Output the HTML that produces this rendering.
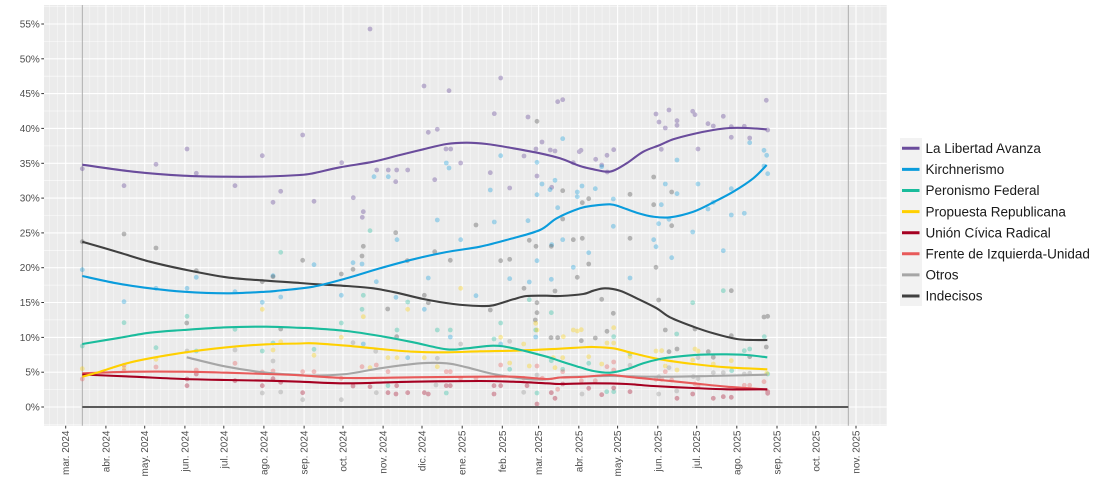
<!DOCTYPE html>
<html><head><meta charset="utf-8"><style>
html,body{margin:0;padding:0;background:#fff;}
svg{display:block;}
text{font-family:"Liberation Sans",Arial,sans-serif;}
</style></head><body>
<svg id="chart" width="1100" height="489" viewBox="0 0 1100 489" xmlns="http://www.w3.org/2000/svg">
<rect x="44" y="5" width="842.7" height="420.7" fill="#EBEBEB"/>
<g stroke="#FFFFFF" stroke-width="0.55" opacity="0.9">
<line x1="44" x2="886.7" y1="424.4" y2="424.4"/><line x1="44" x2="886.7" y1="389.6" y2="389.6"/><line x1="44" x2="886.7" y1="354.8" y2="354.8"/><line x1="44" x2="886.7" y1="319.9" y2="319.9"/><line x1="44" x2="886.7" y1="285.1" y2="285.1"/><line x1="44" x2="886.7" y1="250.3" y2="250.3"/><line x1="44" x2="886.7" y1="215.5" y2="215.5"/><line x1="44" x2="886.7" y1="180.7" y2="180.7"/><line x1="44" x2="886.7" y1="145.9" y2="145.9"/><line x1="44" x2="886.7" y1="111.0" y2="111.0"/><line x1="44" x2="886.7" y1="76.2" y2="76.2"/><line x1="44" x2="886.7" y1="41.4" y2="41.4"/><line x1="44" x2="886.7" y1="6.6" y2="6.6"/>
</g>
<g stroke="#FFFFFF" stroke-width="1.1">
<line x1="44" x2="886.7" y1="407" y2="407"/><line x1="44" x2="886.7" y1="372.2" y2="372.2"/><line x1="44" x2="886.7" y1="337.4" y2="337.4"/><line x1="44" x2="886.7" y1="302.5" y2="302.5"/><line x1="44" x2="886.7" y1="267.7" y2="267.7"/><line x1="44" x2="886.7" y1="232.9" y2="232.9"/><line x1="44" x2="886.7" y1="198.1" y2="198.1"/><line x1="44" x2="886.7" y1="163.3" y2="163.3"/><line x1="44" x2="886.7" y1="128.4" y2="128.4"/><line x1="44" x2="886.7" y1="93.6" y2="93.6"/><line x1="44" x2="886.7" y1="58.8" y2="58.8"/><line x1="44" x2="886.7" y1="24" y2="24"/>
<line x1="65.7" x2="65.7" y1="5" y2="425.7"/><line x1="105.9" x2="105.9" y1="5" y2="425.7"/><line x1="144.7" x2="144.7" y1="5" y2="425.7"/><line x1="184.9" x2="184.9" y1="5" y2="425.7"/><line x1="223.8" x2="223.8" y1="5" y2="425.7"/><line x1="263.9" x2="263.9" y1="5" y2="425.7"/><line x1="304.1" x2="304.1" y1="5" y2="425.7"/><line x1="343" x2="343" y1="5" y2="425.7"/><line x1="383.1" x2="383.1" y1="5" y2="425.7"/><line x1="422" x2="422" y1="5" y2="425.7"/><line x1="462.2" x2="462.2" y1="5" y2="425.7"/><line x1="502.3" x2="502.3" y1="5" y2="425.7"/><line x1="538.6" x2="538.6" y1="5" y2="425.7"/><line x1="578.8" x2="578.8" y1="5" y2="425.7"/><line x1="617.6" x2="617.6" y1="5" y2="425.7"/><line x1="657.8" x2="657.8" y1="5" y2="425.7"/><line x1="696.7" x2="696.7" y1="5" y2="425.7"/><line x1="736.8" x2="736.8" y1="5" y2="425.7"/><line x1="777" x2="777" y1="5" y2="425.7"/><line x1="815.9" x2="815.9" y1="5" y2="425.7"/><line x1="856" x2="856" y1="5" y2="425.7"/>
</g>
<g stroke="#FFFFFF" stroke-width="0.5" opacity="0.75">
<line x1="49.5" x2="49.5" y1="5" y2="425.7"/><line x1="57.6" x2="57.6" y1="5" y2="425.7"/>
<line x1="73.7" x2="73.7" y1="5" y2="425.7"/><line x1="81.8" x2="81.8" y1="5" y2="425.7"/><line x1="89.8" x2="89.8" y1="5" y2="425.7"/><line x1="97.9" x2="97.9" y1="5" y2="425.7"/>
<line x1="113.7" x2="113.7" y1="5" y2="425.7"/><line x1="121.4" x2="121.4" y1="5" y2="425.7"/><line x1="129.2" x2="129.2" y1="5" y2="425.7"/><line x1="136.9" x2="136.9" y1="5" y2="425.7"/>
<line x1="152.7" x2="152.7" y1="5" y2="425.7"/><line x1="160.8" x2="160.8" y1="5" y2="425.7"/><line x1="168.8" x2="168.8" y1="5" y2="425.7"/><line x1="176.9" x2="176.9" y1="5" y2="425.7"/>
<line x1="192.7" x2="192.7" y1="5" y2="425.7"/><line x1="200.5" x2="200.5" y1="5" y2="425.7"/><line x1="208.2" x2="208.2" y1="5" y2="425.7"/><line x1="216" x2="216" y1="5" y2="425.7"/>
<line x1="231.8" x2="231.8" y1="5" y2="425.7"/><line x1="239.8" x2="239.8" y1="5" y2="425.7"/><line x1="247.9" x2="247.9" y1="5" y2="425.7"/><line x1="255.9" x2="255.9" y1="5" y2="425.7"/>
<line x1="271.9" x2="271.9" y1="5" y2="425.7"/><line x1="280" x2="280" y1="5" y2="425.7"/><line x1="288" x2="288" y1="5" y2="425.7"/><line x1="296.1" x2="296.1" y1="5" y2="425.7"/>
<line x1="311.9" x2="311.9" y1="5" y2="425.7"/><line x1="319.7" x2="319.7" y1="5" y2="425.7"/><line x1="327.4" x2="327.4" y1="5" y2="425.7"/><line x1="335.2" x2="335.2" y1="5" y2="425.7"/>
<line x1="351" x2="351" y1="5" y2="425.7"/><line x1="359" x2="359" y1="5" y2="425.7"/><line x1="367.1" x2="367.1" y1="5" y2="425.7"/><line x1="375.1" x2="375.1" y1="5" y2="425.7"/>
<line x1="390.9" x2="390.9" y1="5" y2="425.7"/><line x1="398.6" x2="398.6" y1="5" y2="425.7"/><line x1="406.4" x2="406.4" y1="5" y2="425.7"/><line x1="414.2" x2="414.2" y1="5" y2="425.7"/>
<line x1="430" x2="430" y1="5" y2="425.7"/><line x1="438.1" x2="438.1" y1="5" y2="425.7"/><line x1="446.1" x2="446.1" y1="5" y2="425.7"/><line x1="454.2" x2="454.2" y1="5" y2="425.7"/>
<line x1="470.2" x2="470.2" y1="5" y2="425.7"/><line x1="478.2" x2="478.2" y1="5" y2="425.7"/><line x1="486.3" x2="486.3" y1="5" y2="425.7"/><line x1="494.3" x2="494.3" y1="5" y2="425.7"/>
<line x1="509.6" x2="509.6" y1="5" y2="425.7"/><line x1="516.8" x2="516.8" y1="5" y2="425.7"/><line x1="524.1" x2="524.1" y1="5" y2="425.7"/><line x1="531.3" x2="531.3" y1="5" y2="425.7"/>
<line x1="546.6" x2="546.6" y1="5" y2="425.7"/><line x1="554.7" x2="554.7" y1="5" y2="425.7"/><line x1="562.7" x2="562.7" y1="5" y2="425.7"/><line x1="570.8" x2="570.8" y1="5" y2="425.7"/>
<line x1="586.6" x2="586.6" y1="5" y2="425.7"/><line x1="594.3" x2="594.3" y1="5" y2="425.7"/><line x1="602.1" x2="602.1" y1="5" y2="425.7"/><line x1="609.8" x2="609.8" y1="5" y2="425.7"/>
<line x1="625.6" x2="625.6" y1="5" y2="425.7"/><line x1="633.7" x2="633.7" y1="5" y2="425.7"/><line x1="641.7" x2="641.7" y1="5" y2="425.7"/><line x1="649.8" x2="649.8" y1="5" y2="425.7"/>
<line x1="665.6" x2="665.6" y1="5" y2="425.7"/><line x1="673.4" x2="673.4" y1="5" y2="425.7"/><line x1="681.1" x2="681.1" y1="5" y2="425.7"/><line x1="688.9" x2="688.9" y1="5" y2="425.7"/>
<line x1="704.7" x2="704.7" y1="5" y2="425.7"/><line x1="712.7" x2="712.7" y1="5" y2="425.7"/><line x1="720.8" x2="720.8" y1="5" y2="425.7"/><line x1="728.8" x2="728.8" y1="5" y2="425.7"/>
<line x1="744.8" x2="744.8" y1="5" y2="425.7"/><line x1="752.9" x2="752.9" y1="5" y2="425.7"/><line x1="760.9" x2="760.9" y1="5" y2="425.7"/><line x1="769" x2="769" y1="5" y2="425.7"/>
<line x1="784.8" x2="784.8" y1="5" y2="425.7"/><line x1="792.6" x2="792.6" y1="5" y2="425.7"/><line x1="800.3" x2="800.3" y1="5" y2="425.7"/><line x1="808.1" x2="808.1" y1="5" y2="425.7"/>
<line x1="823.9" x2="823.9" y1="5" y2="425.7"/><line x1="831.9" x2="831.9" y1="5" y2="425.7"/><line x1="840" x2="840" y1="5" y2="425.7"/><line x1="848" x2="848" y1="5" y2="425.7"/>
<line x1="864" x2="864" y1="5" y2="425.7"/><line x1="872" x2="872" y1="5" y2="425.7"/><line x1="880" x2="880" y1="5" y2="425.7"/>
</g>
<line x1="82.3" x2="82.3" y1="5" y2="425.7" stroke="#ABABAB" stroke-width="1"/>
<line x1="848.3" x2="848.3" y1="5" y2="425.7" stroke="#ABABAB" stroke-width="1"/>

<!-- points -->
<g fill="#6A4C9C" opacity="0.38">
<circle cx="82.3" cy="168.7" r="2.4"/><circle cx="124" cy="185.7" r="2.4"/><circle cx="156" cy="164.3" r="2.4"/><circle cx="187" cy="149" r="2.4"/><circle cx="196.3" cy="173.3" r="2.4"/><circle cx="235" cy="185.7" r="2.4"/><circle cx="262.3" cy="155.7" r="2.4"/><circle cx="273" cy="202.3" r="2.4"/><circle cx="280.7" cy="191.3" r="2.4"/><circle cx="302.7" cy="135" r="2.4"/><circle cx="341.7" cy="162.7" r="2.4"/><circle cx="314" cy="201.3" r="2.4"/><circle cx="353.3" cy="197.7" r="2.4"/><circle cx="363.3" cy="211.7" r="2.4"/><circle cx="362.3" cy="217.3" r="2.4"/><circle cx="376.7" cy="170" r="2.4"/><circle cx="388.3" cy="170" r="2.4"/><circle cx="396.7" cy="170" r="2.4"/><circle cx="395.7" cy="181.7" r="2.4"/><circle cx="407.7" cy="170" r="2.4"/><circle cx="370" cy="29" r="2.4"/><circle cx="424" cy="86" r="2.4"/><circle cx="428.3" cy="132.3" r="2.4"/><circle cx="437.3" cy="129.3" r="2.4"/><circle cx="449" cy="90.7" r="2.4"/><circle cx="446" cy="149" r="2.4"/><circle cx="450.7" cy="149" r="2.4"/><circle cx="460.7" cy="163" r="2.4"/><circle cx="434.7" cy="179.7" r="2.4"/><circle cx="490.3" cy="172.7" r="2.4"/><circle cx="494.3" cy="113.7" r="2.4"/><circle cx="500.7" cy="78" r="2.4"/><circle cx="509.7" cy="188" r="2.4"/><circle cx="524" cy="156" r="2.4"/><circle cx="528" cy="117" r="2.4"/><circle cx="536" cy="149" r="2.4"/><circle cx="537" cy="176" r="2.4"/><circle cx="542" cy="142" r="2.4"/><circle cx="550.3" cy="150" r="2.4"/><circle cx="555" cy="151" r="2.4"/><circle cx="551.7" cy="187.3" r="2.4"/><circle cx="557.7" cy="101.7" r="2.4"/><circle cx="562.7" cy="99.7" r="2.4"/><circle cx="579.3" cy="151.7" r="2.4"/><circle cx="581" cy="150.3" r="2.4"/><circle cx="573.3" cy="162.7" r="2.4"/><circle cx="595.7" cy="159.3" r="2.4"/><circle cx="601.7" cy="165" r="2.4"/><circle cx="607" cy="155.3" r="2.4"/><circle cx="613.7" cy="149.7" r="2.4"/><circle cx="607.3" cy="172" r="2.4"/><circle cx="656" cy="114" r="2.4"/><circle cx="659" cy="122" r="2.4"/><circle cx="665.3" cy="128" r="2.4"/><circle cx="669" cy="110" r="2.4"/><circle cx="677" cy="120.7" r="2.4"/><circle cx="677" cy="125.3" r="2.4"/><circle cx="661.3" cy="149.3" r="2.4"/><circle cx="692.7" cy="111.3" r="2.4"/><circle cx="695" cy="114.7" r="2.4"/><circle cx="698" cy="149" r="2.4"/><circle cx="708" cy="123.7" r="2.4"/><circle cx="713.3" cy="126" r="2.4"/><circle cx="723.3" cy="116.3" r="2.4"/><circle cx="731.3" cy="126.7" r="2.4"/><circle cx="731.3" cy="137.3" r="2.4"/><circle cx="744.3" cy="126.3" r="2.4"/><circle cx="749.7" cy="138" r="2.4"/><circle cx="766.3" cy="100.3" r="2.4"/><circle cx="767.7" cy="130" r="2.4"/>
</g>
<g fill="#0A9CDC" opacity="0.33">
<circle cx="82.3" cy="269.7" r="2.4"/><circle cx="124" cy="301.7" r="2.4"/><circle cx="156" cy="288.3" r="2.4"/><circle cx="187" cy="288.3" r="2.4"/><circle cx="196.3" cy="277.3" r="2.4"/><circle cx="235" cy="291.7" r="2.4"/><circle cx="262.3" cy="302.3" r="2.4"/><circle cx="273" cy="275.7" r="2.4"/><circle cx="280.7" cy="297" r="2.4"/><circle cx="374" cy="176.7" r="2.4"/><circle cx="388.3" cy="176.7" r="2.4"/><circle cx="446.3" cy="163" r="2.4"/><circle cx="449" cy="168" r="2.4"/><circle cx="537" cy="162.3" r="2.4"/><circle cx="542" cy="184" r="2.4"/><circle cx="550" cy="189.7" r="2.4"/><circle cx="555" cy="180.3" r="2.4"/><circle cx="537" cy="194.7" r="2.4"/><circle cx="562.7" cy="138.7" r="2.4"/><circle cx="557.7" cy="207.7" r="2.4"/><circle cx="490.3" cy="190" r="2.4"/><circle cx="494.3" cy="222" r="2.4"/><circle cx="437.3" cy="220" r="2.4"/><circle cx="528" cy="220.7" r="2.4"/><circle cx="577.3" cy="196.7" r="2.4"/><circle cx="500.7" cy="155.7" r="2.4"/><circle cx="582" cy="186" r="2.4"/><circle cx="577.3" cy="192" r="2.4"/><circle cx="595.3" cy="188.7" r="2.4"/><circle cx="601.7" cy="166.7" r="2.4"/><circle cx="613.3" cy="199" r="2.4"/><circle cx="613.3" cy="226.3" r="2.4"/><circle cx="677" cy="160" r="2.4"/><circle cx="665.3" cy="184" r="2.4"/><circle cx="677" cy="193.7" r="2.4"/><circle cx="661.3" cy="204.7" r="2.4"/><circle cx="658.7" cy="223.7" r="2.4"/><circle cx="669" cy="219.3" r="2.4"/><circle cx="698" cy="184" r="2.4"/><circle cx="692.7" cy="232" r="2.4"/><circle cx="713.3" cy="202.3" r="2.4"/><circle cx="708" cy="209" r="2.4"/><circle cx="731.3" cy="188.7" r="2.4"/><circle cx="731.3" cy="215" r="2.4"/><circle cx="744.3" cy="213.3" r="2.4"/><circle cx="749.7" cy="142.7" r="2.4"/><circle cx="764" cy="150.3" r="2.4"/><circle cx="766.7" cy="155.3" r="2.4"/><circle cx="764" cy="166" r="2.4"/><circle cx="767.7" cy="173.7" r="2.4"/><circle cx="562.7" cy="239.7" r="2.4"/><circle cx="653.7" cy="239.7" r="2.4"/><circle cx="656" cy="246.7" r="2.4"/><circle cx="314" cy="264.7" r="2.4"/><circle cx="353" cy="262.7" r="2.4"/><circle cx="362" cy="264" r="2.4"/><circle cx="397" cy="239.7" r="2.4"/><circle cx="460.7" cy="239.7" r="2.4"/><circle cx="376.3" cy="281.7" r="2.4"/><circle cx="341.3" cy="295.3" r="2.4"/><circle cx="396" cy="297.3" r="2.4"/><circle cx="428.3" cy="278" r="2.4"/><circle cx="424.3" cy="309.3" r="2.4"/><circle cx="476" cy="295.7" r="2.4"/><circle cx="509.7" cy="278.7" r="2.4"/><circle cx="529.3" cy="282" r="2.4"/><circle cx="537" cy="260.7" r="2.4"/><circle cx="551.3" cy="279.3" r="2.4"/><circle cx="551.7" cy="244.7" r="2.4"/><circle cx="573.3" cy="267.3" r="2.4"/><circle cx="588.7" cy="252.7" r="2.4"/><circle cx="630" cy="278" r="2.4"/><circle cx="671.7" cy="257.7" r="2.4"/><circle cx="723.3" cy="250.7" r="2.4"/><circle cx="450.3" cy="337" r="2.4"/><circle cx="500.7" cy="344" r="2.4"/><circle cx="535.7" cy="337" r="2.4"/><circle cx="407.7" cy="357.7" r="2.4"/><circle cx="363.3" cy="344" r="2.4"/>
</g>
<g fill="#404040" opacity="0.33">
<circle cx="82.3" cy="241.7" r="2.4"/><circle cx="124" cy="234" r="2.4"/><circle cx="156" cy="248" r="2.4"/><circle cx="196.3" cy="270.7" r="2.4"/><circle cx="262.3" cy="281.7" r="2.4"/><circle cx="273" cy="276.7" r="2.4"/><circle cx="186.7" cy="323" r="2.4"/><circle cx="280.7" cy="329" r="2.4"/><circle cx="395.7" cy="232.7" r="2.4"/><circle cx="476" cy="225" r="2.4"/><circle cx="363.3" cy="246.3" r="2.4"/><circle cx="302.7" cy="260.3" r="2.4"/><circle cx="362" cy="256" r="2.4"/><circle cx="341.3" cy="274" r="2.4"/><circle cx="353" cy="269.3" r="2.4"/><circle cx="407.3" cy="260.7" r="2.4"/><circle cx="434.7" cy="251.7" r="2.4"/><circle cx="450.3" cy="260.3" r="2.4"/><circle cx="424.3" cy="295.3" r="2.4"/><circle cx="428.3" cy="302.7" r="2.4"/><circle cx="387.7" cy="309" r="2.4"/><circle cx="490.3" cy="310" r="2.4"/><circle cx="500.7" cy="260.7" r="2.4"/><circle cx="509.7" cy="259.3" r="2.4"/><circle cx="529.3" cy="240.3" r="2.4"/><circle cx="536" cy="246.3" r="2.4"/><circle cx="551.3" cy="246.3" r="2.4"/><circle cx="577.3" cy="277.3" r="2.4"/><circle cx="555" cy="291" r="2.4"/><circle cx="524" cy="288.3" r="2.4"/><circle cx="537" cy="302.7" r="2.4"/><circle cx="537" cy="312.7" r="2.4"/><circle cx="535.3" cy="320" r="2.4"/><circle cx="396.7" cy="336.7" r="2.4"/><circle cx="551" cy="337.7" r="2.4"/><circle cx="557.7" cy="337.7" r="2.4"/><circle cx="562.7" cy="190.7" r="2.4"/><circle cx="562.7" cy="219" r="2.4"/><circle cx="573.3" cy="239.7" r="2.4"/><circle cx="582.3" cy="238.3" r="2.4"/><circle cx="588.7" cy="198.7" r="2.4"/><circle cx="582.3" cy="202.7" r="2.4"/><circle cx="630" cy="194.3" r="2.4"/><circle cx="630" cy="238.3" r="2.4"/><circle cx="653.7" cy="177" r="2.4"/><circle cx="653.7" cy="204.7" r="2.4"/><circle cx="671.7" cy="192" r="2.4"/><circle cx="671.7" cy="225.7" r="2.4"/><circle cx="588.7" cy="264" r="2.4"/><circle cx="601.7" cy="299.3" r="2.4"/><circle cx="613.3" cy="313.3" r="2.4"/><circle cx="607" cy="331.3" r="2.4"/><circle cx="581.3" cy="340.7" r="2.4"/><circle cx="595.3" cy="338" r="2.4"/><circle cx="656" cy="267.3" r="2.4"/><circle cx="658.7" cy="300" r="2.4"/><circle cx="665.3" cy="330" r="2.4"/><circle cx="669" cy="351.7" r="2.4"/><circle cx="677" cy="349" r="2.4"/><circle cx="731.3" cy="290.7" r="2.4"/><circle cx="695" cy="329" r="2.4"/><circle cx="731.3" cy="335.7" r="2.4"/><circle cx="764" cy="317" r="2.4"/><circle cx="767.7" cy="316.3" r="2.4"/><circle cx="766.3" cy="347" r="2.4"/><circle cx="708.3" cy="351.7" r="2.4"/><circle cx="713.3" cy="357.3" r="2.4"/><circle cx="749.7" cy="356.7" r="2.4"/><circle cx="537" cy="121.3" r="2.4"/>
</g>
<g fill="#1ABC9C" opacity="0.33">
<circle cx="82.3" cy="346" r="2.4"/><circle cx="124" cy="322.7" r="2.4"/><circle cx="156" cy="347.7" r="2.4"/><circle cx="187" cy="316.3" r="2.4"/><circle cx="196.3" cy="351" r="2.4"/><circle cx="235" cy="329.3" r="2.4"/><circle cx="262.3" cy="351" r="2.4"/><circle cx="273" cy="343" r="2.4"/><circle cx="280.7" cy="252.3" r="2.4"/><circle cx="370" cy="230.7" r="2.4"/><circle cx="363.3" cy="295.3" r="2.4"/><circle cx="362" cy="309.3" r="2.4"/><circle cx="341.3" cy="323" r="2.4"/><circle cx="407.7" cy="302" r="2.4"/><circle cx="437.3" cy="330" r="2.4"/><circle cx="450.3" cy="330" r="2.4"/><circle cx="397" cy="330" r="2.4"/><circle cx="314" cy="349.3" r="2.4"/><circle cx="494" cy="339" r="2.4"/><circle cx="500.7" cy="323" r="2.4"/><circle cx="509.7" cy="369.3" r="2.4"/><circle cx="529.3" cy="299.7" r="2.4"/><circle cx="551.3" cy="312.7" r="2.4"/><circle cx="535.7" cy="330" r="2.4"/><circle cx="562.7" cy="369.3" r="2.4"/><circle cx="388" cy="385.7" r="2.4"/><circle cx="446.3" cy="393" r="2.4"/><circle cx="537" cy="393" r="2.4"/><circle cx="551.3" cy="360.7" r="2.4"/><circle cx="723.3" cy="290.7" r="2.4"/><circle cx="692.7" cy="302.7" r="2.4"/><circle cx="676.7" cy="334" r="2.4"/><circle cx="613.7" cy="336.7" r="2.4"/><circle cx="630" cy="354" r="2.4"/><circle cx="744.3" cy="350.7" r="2.4"/><circle cx="749.7" cy="349" r="2.4"/><circle cx="764.3" cy="336.7" r="2.4"/><circle cx="588.7" cy="363.3" r="2.4"/><circle cx="613.7" cy="391.7" r="2.4"/><circle cx="606.7" cy="391.7" r="2.4"/><circle cx="731.7" cy="370.7" r="2.4"/><circle cx="767.7" cy="374" r="2.4"/>
</g>
<g fill="#FFD000" opacity="0.33">
<circle cx="82.3" cy="368.7" r="2.4"/><circle cx="156" cy="359.3" r="2.4"/><circle cx="262.3" cy="309.3" r="2.4"/><circle cx="273" cy="350" r="2.4"/><circle cx="280.7" cy="341.7" r="2.4"/><circle cx="341.3" cy="337.3" r="2.4"/><circle cx="314" cy="355.3" r="2.4"/><circle cx="363.3" cy="316.7" r="2.4"/><circle cx="407.7" cy="309.3" r="2.4"/><circle cx="460.7" cy="288.3" r="2.4"/><circle cx="388" cy="357.7" r="2.4"/><circle cx="397" cy="357.7" r="2.4"/><circle cx="424.3" cy="357.7" r="2.4"/><circle cx="437.3" cy="366.7" r="2.4"/><circle cx="370" cy="367.7" r="2.4"/><circle cx="500.7" cy="337.3" r="2.4"/><circle cx="535.7" cy="323.3" r="2.4"/><circle cx="537" cy="330" r="2.4"/><circle cx="509.7" cy="363" r="2.4"/><circle cx="529.3" cy="366" r="2.4"/><circle cx="563.3" cy="336.7" r="2.4"/><circle cx="573.3" cy="330" r="2.4"/><circle cx="553.3" cy="357.7" r="2.4"/><circle cx="555" cy="367.7" r="2.4"/><circle cx="523.7" cy="344" r="2.4"/><circle cx="577.3" cy="331" r="2.4"/><circle cx="581.3" cy="329.7" r="2.4"/><circle cx="613.7" cy="327.7" r="2.4"/><circle cx="607" cy="343" r="2.4"/><circle cx="613.7" cy="343" r="2.4"/><circle cx="562.7" cy="357.7" r="2.4"/><circle cx="588.7" cy="356.7" r="2.4"/><circle cx="630" cy="356.7" r="2.4"/><circle cx="656" cy="351" r="2.4"/><circle cx="661.7" cy="350.7" r="2.4"/><circle cx="695" cy="349" r="2.4"/><circle cx="698" cy="351" r="2.4"/><circle cx="665.3" cy="366" r="2.4"/><circle cx="677" cy="370" r="2.4"/><circle cx="713.3" cy="364" r="2.4"/><circle cx="731.3" cy="360.7" r="2.4"/><circle cx="766.7" cy="373.3" r="2.4"/><circle cx="601.7" cy="364" r="2.4"/><circle cx="692.7" cy="360" r="2.4"/><circle cx="124" cy="368" r="2.4"/>
</g>
<g fill="#A6A6A6" opacity="0.45">
<circle cx="187" cy="351" r="2.4"/><circle cx="235" cy="350" r="2.4"/><circle cx="262.3" cy="393" r="2.4"/><circle cx="280.7" cy="392" r="2.4"/><circle cx="273" cy="361" r="2.4"/><circle cx="353" cy="342.7" r="2.4"/><circle cx="375.7" cy="351.3" r="2.4"/><circle cx="437.3" cy="358.3" r="2.4"/><circle cx="460.7" cy="344" r="2.4"/><circle cx="509.7" cy="341.3" r="2.4"/><circle cx="341.3" cy="399.7" r="2.4"/><circle cx="376.3" cy="392.7" r="2.4"/><circle cx="302.7" cy="399.7" r="2.4"/><circle cx="436" cy="385" r="2.4"/><circle cx="523.7" cy="392.3" r="2.4"/><circle cx="537" cy="375" r="2.4"/><circle cx="630" cy="365.3" r="2.4"/><circle cx="658.7" cy="376.7" r="2.4"/><circle cx="669" cy="367.7" r="2.4"/><circle cx="698" cy="357.7" r="2.4"/><circle cx="698" cy="378.7" r="2.4"/><circle cx="744.3" cy="374" r="2.4"/><circle cx="749.7" cy="373.3" r="2.4"/><circle cx="582" cy="394" r="2.4"/><circle cx="658.7" cy="394" r="2.4"/><circle cx="676.7" cy="391" r="2.4"/><circle cx="693.3" cy="376.7" r="2.4"/><circle cx="713.3" cy="372.7" r="2.4"/><circle cx="723.3" cy="372.7" r="2.4"/>
</g>
<g fill="#E85A5A" opacity="0.35">
<circle cx="82.3" cy="379" r="2.4"/><circle cx="124" cy="365.3" r="2.4"/><circle cx="124" cy="370.7" r="2.4"/><circle cx="156" cy="367" r="2.4"/><circle cx="196.3" cy="370" r="2.4"/><circle cx="235" cy="363.3" r="2.4"/><circle cx="262.3" cy="372" r="2.4"/><circle cx="273" cy="371" r="2.4"/><circle cx="302.7" cy="371.7" r="2.4"/><circle cx="314" cy="371.7" r="2.4"/><circle cx="362" cy="366.7" r="2.4"/><circle cx="376.3" cy="365" r="2.4"/><circle cx="388" cy="371.7" r="2.4"/><circle cx="341.3" cy="378.3" r="2.4"/><circle cx="446.3" cy="371.7" r="2.4"/><circle cx="450.3" cy="371.7" r="2.4"/><circle cx="460.7" cy="378.3" r="2.4"/><circle cx="476" cy="378.3" r="2.4"/><circle cx="500.7" cy="365" r="2.4"/><circle cx="523.7" cy="378.3" r="2.4"/><circle cx="537" cy="366" r="2.4"/><circle cx="542.3" cy="378.3" r="2.4"/><circle cx="557.7" cy="389.3" r="2.4"/><circle cx="562.7" cy="371.7" r="2.4"/><circle cx="581.3" cy="380.7" r="2.4"/><circle cx="595.3" cy="380.7" r="2.4"/><circle cx="607" cy="366.7" r="2.4"/><circle cx="613.7" cy="362" r="2.4"/><circle cx="613.7" cy="370" r="2.4"/><circle cx="656" cy="379.3" r="2.4"/><circle cx="661.7" cy="379.3" r="2.4"/><circle cx="665.3" cy="371.7" r="2.4"/><circle cx="671.7" cy="380" r="2.4"/><circle cx="695" cy="384" r="2.4"/><circle cx="698" cy="386" r="2.4"/><circle cx="744.3" cy="385.3" r="2.4"/><circle cx="749.7" cy="385.3" r="2.4"/><circle cx="764" cy="381.7" r="2.4"/>
</g>
<g fill="#A50021" opacity="0.33">
<circle cx="187" cy="379" r="2.4"/><circle cx="187" cy="385.7" r="2.4"/><circle cx="196.3" cy="374" r="2.4"/><circle cx="235" cy="380.7" r="2.4"/><circle cx="262.3" cy="385.7" r="2.4"/><circle cx="273" cy="378.7" r="2.4"/><circle cx="280.7" cy="382.3" r="2.4"/><circle cx="302.7" cy="392.7" r="2.4"/><circle cx="353" cy="386" r="2.4"/><circle cx="370" cy="386.7" r="2.4"/><circle cx="396.7" cy="385.7" r="2.4"/><circle cx="388" cy="392.7" r="2.4"/><circle cx="396" cy="394" r="2.4"/><circle cx="407.7" cy="392.7" r="2.4"/><circle cx="424.3" cy="392.7" r="2.4"/><circle cx="428.3" cy="394" r="2.4"/><circle cx="446.3" cy="385.7" r="2.4"/><circle cx="450.3" cy="385.7" r="2.4"/><circle cx="494" cy="385.7" r="2.4"/><circle cx="494" cy="394" r="2.4"/><circle cx="500.7" cy="385.7" r="2.4"/><circle cx="527" cy="385.7" r="2.4"/><circle cx="537" cy="404" r="2.4"/><circle cx="551.3" cy="392.7" r="2.4"/><circle cx="555" cy="398.3" r="2.4"/><circle cx="562.7" cy="384" r="2.4"/><circle cx="588.7" cy="388.3" r="2.4"/><circle cx="601.7" cy="394.7" r="2.4"/><circle cx="613.7" cy="388" r="2.4"/><circle cx="630" cy="391.7" r="2.4"/><circle cx="677" cy="398.3" r="2.4"/><circle cx="692.7" cy="394" r="2.4"/><circle cx="713.3" cy="398.3" r="2.4"/><circle cx="723.3" cy="396.7" r="2.4"/><circle cx="731.3" cy="397.3" r="2.4"/><circle cx="767.7" cy="393.3" r="2.4"/><circle cx="767.7" cy="391.7" r="2.4"/>
</g>

<!-- zero line -->
<line x1="82.3" x2="848.3" y1="407" y2="407" stroke="#595959" stroke-width="2"/>

<!-- curves -->
<g id="curves" fill="none" stroke-width="2.1" stroke-linejoin="round" stroke-linecap="butt">
<polyline stroke="#A6A6A6" points="186.7,357.3 226.7,366.7 266.7,372.7 300,375 313.3,375.7 346.7,374 380,368.3 420,363.3 446.7,363.3 466.7,367.3 493.3,374 526.7,379 545,379.5 560,377.5 580,376.7 610,376 660,376.7 710,376 767.3,374.7"/>
<polyline stroke="#E85A5A" points="82.3,373.3 133.3,371.7 183.3,371.7 226.7,372.7 266.7,374 300,375.3 346.7,378 413.3,377.3 480,376.7 513.3,376.7 546.7,379 560,377.5 580,377 610,375 626.7,376.7 660,380 693.3,383.3 726.7,386.7 767.3,389.5"/>
<polyline stroke="#A50021" points="82.3,374.5 133.3,376.7 183.3,379 226.7,380 266.7,380.7 300,381.7 346.7,383.3 413.3,381.7 480,381 513.3,381.7 546.7,383.3 560,384 593.3,383.3 626.7,384 653.3,386 693.3,388 726.7,389.3 767.3,389.3"/>
<polyline stroke="#FFD000" points="82.3,376.7 100,371.7 133.3,361.7 183.3,352.7 226.7,347.3 266.7,344.3 300,343.5 313.3,343.3 346.7,345.7 380,349 413.3,351.7 446.7,352.3 480,351.3 513.3,350.7 546.7,349.3 560,348.7 580,347.5 593.3,347 613.3,348.3 633.3,353.3 660,359.3 693.3,364 726.7,367.3 767.3,369.3"/>
<polyline stroke="#1ABC9C" points="82.3,344 116.7,338.3 150,332.7 183.3,330 226.7,327.3 266.7,326.7 300,327.8 313.3,328.3 346.7,331 380,336 413.3,342.3 446.7,349.3 466.7,348.3 493.3,345.7 513.3,348.3 546.7,356.7 560,361 580,367.3 593.3,371 610,372.7 626.7,369.3 643.3,363.3 660,359 676.7,356.7 700,354.7 726.7,354.3 746.7,355 767.3,357.3"/>
<polyline stroke="#404040" points="82.3,241.7 116.7,251.7 150,261.7 183.3,269.3 226.7,277.3 266.7,280.7 300,283 313.3,284 346.7,286 373.3,288.3 396.7,292.7 423.3,299 453.3,304 480,306 493.3,305.3 513.3,299.3 526.7,296 546.7,295.7 560,296 583.3,294 593.3,290.7 605,288.3 620,290.7 636.7,298.3 656.7,308.3 670,317.3 693.3,326.7 713.3,333.3 736.7,339 753.3,340 767.3,340"/>
<polyline stroke="#0A9CDC" points="82.3,276 116.7,283.3 150,288.3 183.3,291.7 226.7,293.3 266.7,291.7 280,290.5 313.3,286.7 346.7,278.3 380,268.3 413.3,259.3 446.7,252 480,246.7 510,239 540,230 556.7,218.3 580,208.3 593.3,205.7 610,204.3 620,206.7 636.7,212.7 653.3,216.7 670,217.3 693.3,211.7 713.3,202.3 733.3,191.7 753.3,178.3 766.7,165"/>
<polyline stroke="#6A4C9C" points="82.3,164.7 133.3,171.7 183.3,175.7 226.7,176.7 266.7,176.5 300,175 313,173.3 340,167.3 373.3,161.7 400,155 423.3,149.3 446.7,144 466.7,142.7 486.7,144 513.3,148.3 540,153.3 560,158.3 580,166 593.3,169.3 606.7,171.7 615,170 626.7,163.3 643.3,151.7 660,145 673.3,139.3 693.3,134 713.3,130 730,128 746.7,128 766.7,129.3"/>
</g>

<!-- axes ticks -->
<g stroke="#333333" stroke-width="1">
<line x1="41.3" x2="44" y1="407" y2="407"/><line x1="41.3" x2="44" y1="372.2" y2="372.2"/><line x1="41.3" x2="44" y1="337.4" y2="337.4"/><line x1="41.3" x2="44" y1="302.5" y2="302.5"/><line x1="41.3" x2="44" y1="267.7" y2="267.7"/><line x1="41.3" x2="44" y1="232.9" y2="232.9"/><line x1="41.3" x2="44" y1="198.1" y2="198.1"/><line x1="41.3" x2="44" y1="163.3" y2="163.3"/><line x1="41.3" x2="44" y1="128.4" y2="128.4"/><line x1="41.3" x2="44" y1="93.6" y2="93.6"/><line x1="41.3" x2="44" y1="58.8" y2="58.8"/><line x1="41.3" x2="44" y1="24" y2="24"/>
<line x1="65.7" x2="65.7" y1="425.7" y2="428.5"/><line x1="105.9" x2="105.9" y1="425.7" y2="428.5"/><line x1="144.7" x2="144.7" y1="425.7" y2="428.5"/><line x1="184.9" x2="184.9" y1="425.7" y2="428.5"/><line x1="223.8" x2="223.8" y1="425.7" y2="428.5"/><line x1="263.9" x2="263.9" y1="425.7" y2="428.5"/><line x1="304.1" x2="304.1" y1="425.7" y2="428.5"/><line x1="343" x2="343" y1="425.7" y2="428.5"/><line x1="383.1" x2="383.1" y1="425.7" y2="428.5"/><line x1="422" x2="422" y1="425.7" y2="428.5"/><line x1="462.2" x2="462.2" y1="425.7" y2="428.5"/><line x1="502.3" x2="502.3" y1="425.7" y2="428.5"/><line x1="538.6" x2="538.6" y1="425.7" y2="428.5"/><line x1="578.8" x2="578.8" y1="425.7" y2="428.5"/><line x1="617.6" x2="617.6" y1="425.7" y2="428.5"/><line x1="657.8" x2="657.8" y1="425.7" y2="428.5"/><line x1="696.7" x2="696.7" y1="425.7" y2="428.5"/><line x1="736.8" x2="736.8" y1="425.7" y2="428.5"/><line x1="777" x2="777" y1="425.7" y2="428.5"/><line x1="815.9" x2="815.9" y1="425.7" y2="428.5"/><line x1="856" x2="856" y1="425.7" y2="428.5"/>
</g>
<g font-size="10" fill="#4D4D4D" text-anchor="end">
<text x="39.8" y="410.5">0%</text><text x="39.8" y="375.7">5%</text><text x="39.8" y="340.9">10%</text><text x="39.8" y="306">15%</text><text x="39.8" y="271.2">20%</text><text x="39.8" y="236.4">25%</text><text x="39.8" y="201.6">30%</text><text x="39.8" y="166.8">35%</text><text x="39.8" y="131.9">40%</text><text x="39.8" y="97.1">45%</text><text x="39.8" y="62.3">50%</text><text x="39.8" y="27.5">55%</text>
<text transform="translate(69.2,430.5) rotate(-90)">mar. 2024</text>
<text transform="translate(109.4,430.5) rotate(-90)">abr. 2024</text>
<text transform="translate(148.2,430.5) rotate(-90)">may. 2024</text>
<text transform="translate(188.4,430.5) rotate(-90)">jun. 2024</text>
<text transform="translate(227.3,430.5) rotate(-90)">jul. 2024</text>
<text transform="translate(267.4,430.5) rotate(-90)">ago. 2024</text>
<text transform="translate(307.6,430.5) rotate(-90)">sep. 2024</text>
<text transform="translate(346.5,430.5) rotate(-90)">oct. 2024</text>
<text transform="translate(386.6,430.5) rotate(-90)">nov. 2024</text>
<text transform="translate(425.5,430.5) rotate(-90)">dic. 2024</text>
<text transform="translate(465.7,430.5) rotate(-90)">ene. 2025</text>
<text transform="translate(505.8,430.5) rotate(-90)">feb. 2025</text>
<text transform="translate(542.1,430.5) rotate(-90)">mar. 2025</text>
<text transform="translate(582.3,430.5) rotate(-90)">abr. 2025</text>
<text transform="translate(621.1,430.5) rotate(-90)">may. 2025</text>
<text transform="translate(661.3,430.5) rotate(-90)">jun. 2025</text>
<text transform="translate(700.2,430.5) rotate(-90)">jul. 2025</text>
<text transform="translate(740.3,430.5) rotate(-90)">ago. 2025</text>
<text transform="translate(780.5,430.5) rotate(-90)">sep. 2025</text>
<text transform="translate(819.4,430.5) rotate(-90)">oct. 2025</text>
<text transform="translate(859.5,430.5) rotate(-90)">nov. 2025</text>
</g>

<!-- legend -->
<rect x="900" y="138" width="22" height="168" fill="#F2F2F2"/>
<g stroke-width="3">
<line x1="902" x2="919.5" y1="148.3" y2="148.3" stroke="#6A4C9C"/>
<line x1="902" x2="919.5" y1="169.4" y2="169.4" stroke="#0A9CDC"/>
<line x1="902" x2="919.5" y1="190.5" y2="190.5" stroke="#1ABC9C"/>
<line x1="902" x2="919.5" y1="211.6" y2="211.6" stroke="#FFD000"/>
<line x1="902" x2="919.5" y1="232.7" y2="232.7" stroke="#A50021"/>
<line x1="902" x2="919.5" y1="253.8" y2="253.8" stroke="#E85A5A"/>
<line x1="902" x2="919.5" y1="274.9" y2="274.9" stroke="#A6A6A6"/>
<line x1="902" x2="919.5" y1="296" y2="296" stroke="#404040"/>
</g>
<g font-size="13.5" fill="#1A1A1A">
<text x="925.5" y="153">La Libertad Avanza</text>
<text x="925.5" y="174.1">Kirchnerismo</text>
<text x="925.5" y="195.2">Peronismo Federal</text>
<text x="925.5" y="216.3">Propuesta Republicana</text>
<text x="925.5" y="237.4">Unión Cívica Radical</text>
<text x="925.5" y="258.5">Frente de Izquierda-Unidad</text>
<text x="925.5" y="279.6">Otros</text>
<text x="925.5" y="300.7">Indecisos</text>
</g>
</svg>
<script>
(function(){
try{
var NS="http://www.w3.org/2000/svg";
var polys=document.querySelectorAll("#curves polyline");
for(var i=0;i<polys.length;i++){
var pl=polys[i];
var raw=pl.getAttribute("points").trim().split(/\s+/);
var p=[];
for(var j=0;j<raw.length;j++){var c=raw[j].split(",");p.push([parseFloat(c[0]),parseFloat(c[1])]);}
if(p.length<3)continue;
var d="M"+p[0][0]+","+p[0][1];
for(var k=0;k<p.length-1;k++){
var p0=p[k>0?k-1:0],p1=p[k],p2=p[k+1],p3=p[k+2<p.length?k+2:p.length-1];
var c1x=p1[0]+(p2[0]-p0[0])/6,c1y=p1[1]+(p2[1]-p0[1])/6;
var c2x=p2[0]-(p3[0]-p1[0])/6,c2y=p2[1]-(p3[1]-p1[1])/6;
d+=" C"+c1x.toFixed(2)+","+c1y.toFixed(2)+" "+c2x.toFixed(2)+","+c2y.toFixed(2)+" "+p2[0]+","+p2[1];
}
var path=document.createElementNS(NS,"path");
path.setAttribute("d",d);
path.setAttribute("stroke",pl.getAttribute("stroke"));
pl.parentNode.replaceChild(path,pl);
}
}catch(e){}
})();
</script>
</body></html>
